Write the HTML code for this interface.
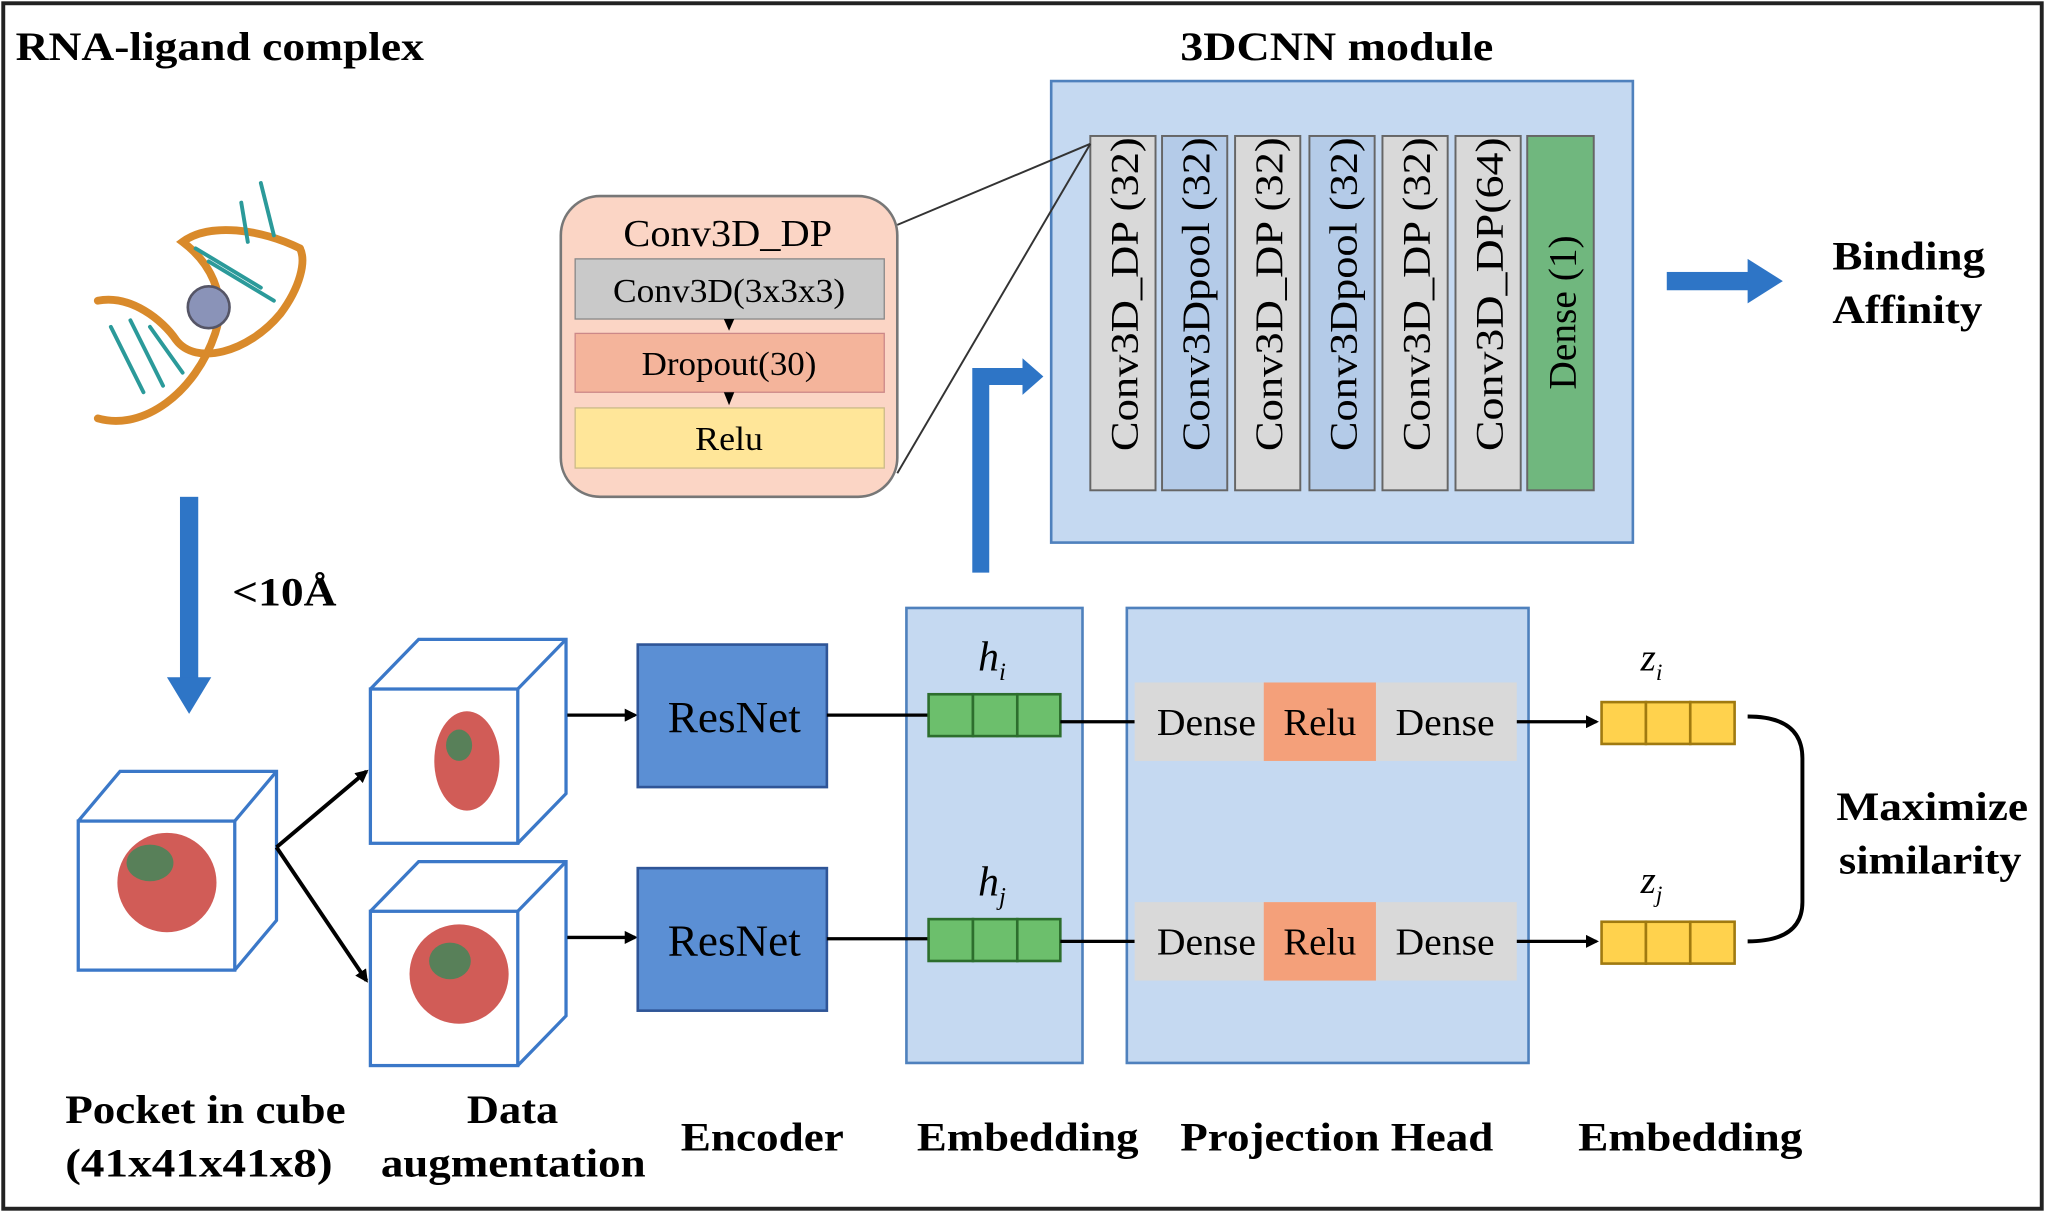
<!DOCTYPE html>
<html><head><meta charset="utf-8"><style>
html,body{margin:0;padding:0;background:#fff;}
svg{display:block;}
text{font-family:"Liberation Serif",serif;}
.b{font-weight:bold;font-size:31px;}
</style></head><body>
<svg width="2045" height="1212" viewBox="0 0 1568 927" preserveAspectRatio="none" xmlns="http://www.w3.org/2000/svg">
<defs>
<marker id="ah" markerWidth="10" markerHeight="10" refX="8" refY="5" orient="auto" markerUnits="userSpaceOnUse"><path d="M0,0 L10,5 L0,10 z" fill="#000"/></marker>
</defs>
<rect x="2.5" y="2.5" width="1563" height="922" fill="#fff" stroke="#222" stroke-width="3"/>
<text x="12" y="46" class="b" textLength="313" lengthAdjust="spacingAndGlyphs">RNA-ligand complex</text>
<text x="905" y="46" class="b" textLength="240" lengthAdjust="spacingAndGlyphs">3DCNN module</text>

<!-- RNA drawing -->
<g fill="none" stroke-linecap="round">
<path d="M75,320 C110,330 150,300 165,255 C175,225 160,200 140,185 C160,170 200,175 230,190" stroke="#d98a2b" stroke-width="6"/>
<path d="M75,230 C100,225 125,245 135,260 C150,280 190,270 215,240 C230,220 235,200 230,190" stroke="#d98a2b" stroke-width="6"/>
<g stroke="#2b9a9a" stroke-width="3">
<line x1="85" y1="250" x2="110" y2="300"/><line x1="100" y1="245" x2="125" y2="295"/><line x1="115" y1="250" x2="140" y2="285"/>
<line x1="150" y1="190" x2="200" y2="220"/><line x1="160" y1="200" x2="210" y2="230"/><line x1="185" y1="155" x2="190" y2="185"/><line x1="200" y1="140" x2="210" y2="180"/>
</g>
<circle cx="160" cy="235" r="16" fill="#8a93b8" stroke="#556" stroke-width="2"/>
</g>

<rect x="138" y="380" width="14" height="140" fill="#2e75c6"/>
<path d="M128,518 L162,518 L145,546 z" fill="#2e75c6"/>
<text x="178" y="463" class="b" textLength="80" lengthAdjust="spacingAndGlyphs">&lt;10Å</text>

<g fill="#fff" stroke="#3b78c8" stroke-width="2.5">
<path d="M60,628 L92,590 L212,590 L212,704 L180,742"/><line x1="180" y1="628" x2="212" y2="590"/>
<rect x="60" y="628" width="120" height="114"/>
<path d="M284,527 L321,489 L434,489 L434,607 L397,645"/><line x1="397" y1="527" x2="434" y2="489"/>
<rect x="284" y="527" width="113" height="118"/>
<path d="M284,697 L321,659 L434,659 L434,777 L397,815"/><line x1="397" y1="697" x2="434" y2="659"/>
<rect x="284" y="697" width="113" height="118"/>
</g>
<g>
<ellipse cx="128" cy="675" rx="38" ry="38" fill="#c9403a" opacity="0.85"/><ellipse cx="115" cy="660" rx="18" ry="14" fill="#3a8a5a" opacity="0.8"/>
<ellipse cx="358" cy="582" rx="25" ry="38" fill="#c9403a" opacity="0.85"/><ellipse cx="352" cy="570" rx="10" ry="12" fill="#3a8a5a" opacity="0.8"/>
<ellipse cx="352" cy="745" rx="38" ry="38" fill="#c9403a" opacity="0.85"/><ellipse cx="345" cy="735" rx="16" ry="14" fill="#3a8a5a" opacity="0.8"/>
</g>
<line x1="212" y1="648" x2="281" y2="590" stroke="#000" stroke-width="3" marker-end="url(#ah)"/>
<line x1="212" y1="648" x2="281" y2="750" stroke="#000" stroke-width="3" marker-end="url(#ah)"/>

<line x1="435" y1="547" x2="487" y2="547" stroke="#000" stroke-width="2.5" marker-end="url(#ah)"/>
<line x1="435" y1="717" x2="487" y2="717" stroke="#000" stroke-width="2.5" marker-end="url(#ah)"/>
<rect x="489" y="493" width="145" height="109" fill="#5b8fd4" stroke="#2f5597" stroke-width="2"/>
<rect x="489" y="664" width="145" height="109" fill="#5b8fd4" stroke="#2f5597" stroke-width="2"/>
<text x="512" y="560" font-size="34" textLength="102" lengthAdjust="spacingAndGlyphs">ResNet</text>
<text x="512" y="731" font-size="34" textLength="102" lengthAdjust="spacingAndGlyphs">ResNet</text>

<rect x="695" y="465" width="135" height="348" fill="#c5d9f1" stroke="#4f81bd" stroke-width="2"/>
<line x1="634" y1="547" x2="712" y2="547" stroke="#000" stroke-width="2.5"/>
<line x1="634" y1="718" x2="712" y2="718" stroke="#000" stroke-width="2.5"/>
<g fill="#6cbf6c" stroke="#2d6e2d" stroke-width="2">
<rect x="712" y="531" width="34" height="32"/><rect x="746" y="531" width="34" height="32"/><rect x="780" y="531" width="33" height="32"/>
<rect x="712" y="703" width="34" height="32"/><rect x="746" y="703" width="34" height="32"/><rect x="780" y="703" width="33" height="32"/>
</g>
<text x="750" y="513" font-size="32" font-style="italic">h<tspan font-size="19" dy="7">i</tspan></text>
<text x="750" y="685" font-size="32" font-style="italic">h<tspan font-size="19" dy="7">j</tspan></text>

<rect x="864" y="465" width="308" height="348" fill="#c5d9f1" stroke="#4f81bd" stroke-width="2"/>
<line x1="813" y1="552" x2="870" y2="552" stroke="#000" stroke-width="2.5"/>
<line x1="813" y1="720" x2="870" y2="720" stroke="#000" stroke-width="2.5"/>
<rect x="870" y="522" width="293" height="60" fill="#d9d9d9"/>
<rect x="969" y="522" width="86" height="60" fill="#f4a07a"/>
<rect x="870" y="690" width="293" height="60" fill="#d9d9d9"/>
<rect x="969" y="690" width="86" height="60" fill="#f4a07a"/>
<g font-size="29">
<text x="887" y="562" textLength="76" lengthAdjust="spacingAndGlyphs">Dense</text><text x="984" y="562" textLength="56" lengthAdjust="spacingAndGlyphs">Relu</text><text x="1070" y="562" textLength="76" lengthAdjust="spacingAndGlyphs">Dense</text>
<text x="887" y="730" textLength="76" lengthAdjust="spacingAndGlyphs">Dense</text><text x="984" y="730" textLength="56" lengthAdjust="spacingAndGlyphs">Relu</text><text x="1070" y="730" textLength="76" lengthAdjust="spacingAndGlyphs">Dense</text>
</g>
<line x1="1163" y1="552" x2="1224" y2="552" stroke="#000" stroke-width="2.5" marker-end="url(#ah)"/>
<line x1="1163" y1="720" x2="1224" y2="720" stroke="#000" stroke-width="2.5" marker-end="url(#ah)"/>
<g fill="#ffd24d" stroke="#a07a10" stroke-width="2">
<rect x="1228" y="537" width="34" height="32"/><rect x="1262" y="537" width="34" height="32"/><rect x="1296" y="537" width="34" height="32"/>
<rect x="1228" y="705" width="34" height="32"/><rect x="1262" y="705" width="34" height="32"/><rect x="1296" y="705" width="34" height="32"/>
</g>
<text x="1258" y="513" font-size="30" font-style="italic">z<tspan font-size="18" dy="7">i</tspan></text>
<text x="1258" y="683" font-size="30" font-style="italic">z<tspan font-size="18" dy="7">j</tspan></text>
<path d="M1340,548 Q1382,548 1382,580 L1382,690 Q1382,720 1340,720" fill="none" stroke="#000" stroke-width="3"/>
<text x="1408" y="627" class="b" textLength="147" lengthAdjust="spacingAndGlyphs">Maximize</text>
<text x="1410" y="668" class="b" textLength="140" lengthAdjust="spacingAndGlyphs">similarity</text>

<rect x="806" y="62" width="446" height="353" fill="#c5d9f1" stroke="#4f81bd" stroke-width="2"/>
<g stroke="#666" stroke-width="1.5">
<rect x="836" y="104" width="50" height="271" fill="#d9d9d9"/>
<rect x="891" y="104" width="50" height="271" fill="#b4cbe8"/>
<rect x="947" y="104" width="50" height="271" fill="#d9d9d9"/>
<rect x="1004" y="104" width="50" height="271" fill="#b4cbe8"/>
<rect x="1060" y="104" width="50" height="271" fill="#d9d9d9"/>
<rect x="1116" y="104" width="50" height="271" fill="#d9d9d9"/>
<rect x="1171" y="104" width="51" height="271" fill="#70b77e"/>
</g>
<g font-size="30">
<text transform="translate(872,345) rotate(-90)" textLength="240" lengthAdjust="spacingAndGlyphs">Conv3D_DP (32)</text>
<text transform="translate(927,345) rotate(-90)" textLength="240" lengthAdjust="spacingAndGlyphs">Conv3Dpool (32)</text>
<text transform="translate(983,345) rotate(-90)" textLength="240" lengthAdjust="spacingAndGlyphs">Conv3D_DP (32)</text>
<text transform="translate(1040,345) rotate(-90)" textLength="240" lengthAdjust="spacingAndGlyphs">Conv3Dpool (32)</text>
<text transform="translate(1096,345) rotate(-90)" textLength="240" lengthAdjust="spacingAndGlyphs">Conv3D_DP (32)</text>
<text transform="translate(1152,345) rotate(-90)" textLength="240" lengthAdjust="spacingAndGlyphs">Conv3D_DP(64)</text>
<text transform="translate(1208,298) rotate(-90)" textLength="118" lengthAdjust="spacingAndGlyphs">Dense (1)</text>
</g>
<line x1="688" y1="172" x2="836" y2="110" stroke="#333" stroke-width="1.5"/>
<line x1="688" y1="362" x2="836" y2="110" stroke="#333" stroke-width="1.5"/>

<rect x="430" y="150" width="258" height="230" rx="30" fill="#fbd5c5" stroke="#777" stroke-width="2"/>
<text x="478" y="188" font-size="29" textLength="160" lengthAdjust="spacingAndGlyphs">Conv3D_DP</text>
<rect x="441" y="198" width="237" height="46" fill="#c9c9c9" stroke="#888"/>
<rect x="441" y="255" width="237" height="45" fill="#f4b49b" stroke="#c88"/>
<rect x="441" y="312" width="237" height="46" fill="#ffe699" stroke="#cb8"/>
<text x="470" y="231" font-size="26" textLength="178" lengthAdjust="spacingAndGlyphs">Conv3D(3x3x3)</text>
<text x="492" y="287" font-size="26" textLength="134" lengthAdjust="spacingAndGlyphs">Dropout(30)</text>
<text x="533" y="344" font-size="26" textLength="52" lengthAdjust="spacingAndGlyphs">Relu</text>
<path d="M555,244 L563,244 L559,253 z" fill="#000"/>
<path d="M555,300 L563,300 L559,310 z" fill="#000"/>

<path d="M752,438 L752,288 L786,288" fill="none" stroke="#2e75c6" stroke-width="13"/>
<path d="M784,274 L800,288 L784,302 z" fill="#2e75c6"/>
<rect x="1278" y="208" width="65" height="14" fill="#2e75c6"/>
<path d="M1340,198 L1367,215 L1340,232 z" fill="#2e75c6"/>
<text x="1405" y="206" class="b" textLength="117" lengthAdjust="spacingAndGlyphs">Binding</text>
<text x="1405" y="247" class="b" textLength="115" lengthAdjust="spacingAndGlyphs">Affinity</text>

<text x="50" y="859" class="b" textLength="215" lengthAdjust="spacingAndGlyphs">Pocket in cube</text>
<text x="50" y="900" class="b" textLength="205" lengthAdjust="spacingAndGlyphs">(41x41x41x8)</text>
<text x="358" y="859" class="b" textLength="70" lengthAdjust="spacingAndGlyphs">Data</text>
<text x="292" y="900" class="b" textLength="203" lengthAdjust="spacingAndGlyphs">augmentation</text>
<text x="522" y="880" class="b" textLength="125" lengthAdjust="spacingAndGlyphs">Encoder</text>
<text x="703" y="880" class="b" textLength="170" lengthAdjust="spacingAndGlyphs">Embedding</text>
<text x="905" y="880" class="b" textLength="240" lengthAdjust="spacingAndGlyphs">Projection Head</text>
<text x="1210" y="880" class="b" textLength="172" lengthAdjust="spacingAndGlyphs">Embedding</text>
</svg>
</body></html>
